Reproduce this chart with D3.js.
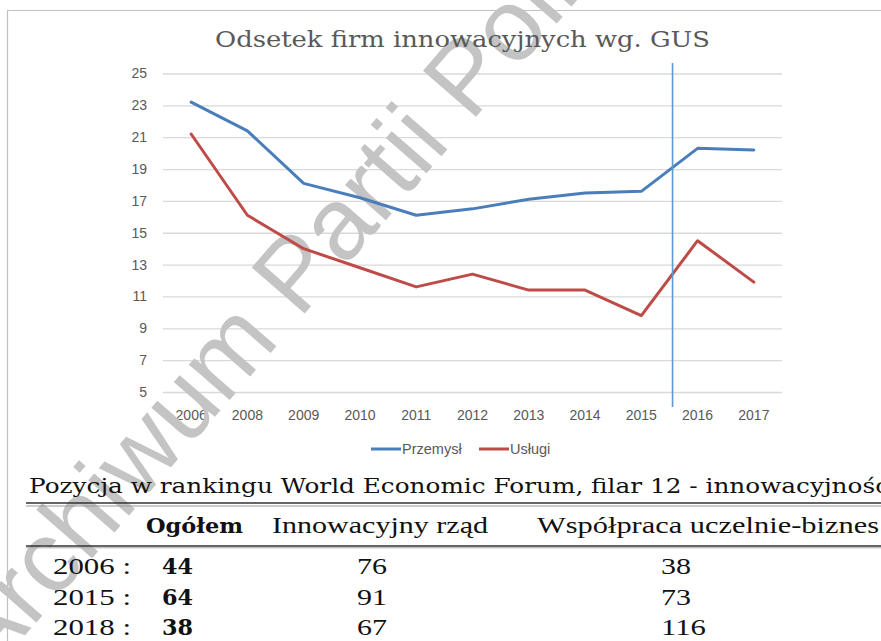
<!DOCTYPE html>
<html>
<head>
<meta charset="utf-8">
<script src="https://cdn.jsdelivr.net/npm/d3@7"></script>
<style>
  body { margin: 0; background: #fff; }
  svg { display: block; }
</style>
</head>
<body>
<div id="mygraph"></div>
<script>
// chart data (GUS)
const years = ['2006', '2008', '2009', '2010', '2011', '2012', '2013', '2014', '2015', '2016', '2017'];
const przemysl = [23.2, 21.4, 18.1, 17.2, 16.1, 16.5, 17.1, 17.5, 17.6, 20.3, 20.2];
const uslugi = [21.2, 16.1, 14.0, 12.8, 11.6, 12.4, 11.4, 11.4, 9.8, 14.5, 11.9];
const seriesNames = ['Przemysł', 'Usługi'];
const yTicks = [5, 7, 9, 11, 13, 15, 17, 19, 21, 23, 25];

// table data (WEF)
const tableHeaders = ['Ogółem', 'Innowacyjny rząd', 'Współpraca uczelnie-biznes'];
const rankYears = ['2006', '2015', '2018'];
const ogolem = [44, 64, 38];
const innowacyjnyRzad = [76, 91, 67];
const wspolpraca = [38, 73, 116];

const W = 881, H = 641;
const colors = ['#4a7ebb', '#be4b48'];

const svg = d3.select("#mygraph").append("svg")
  .attr("width", W)
  .attr("height", H);

svg.append("rect").attr("width", W).attr("height", H).attr("fill", "#fff");

// frame of the pasted chart
svg.append("path")
  .attr("d", `M7.5,${H} V10.5 H${W}`)
  .attr("fill", "none")
  .attr("stroke", "#c0c0c0")
  .attr("stroke-width", 1.2);

const x = d3.scaleBand()
  .domain(years)
  .range([163, 782])
  .padding(0);

const y = d3.scaleLinear()
  .domain([5, 25])
  .range([392, 73.5]);

const plotW = x.range()[1] - x.range()[0];

// y axis with gridlines
const yAxis = svg.append("g")
  .attr("transform", `translate(${x.range()[0]},0)`)
  .call(d3.axisLeft(y).tickValues(yTicks).tickSize(-plotW).tickPadding(16));
yAxis.select(".domain").remove();
yAxis.selectAll("line").attr("stroke", "#d9d9d9").attr("stroke-width", 1.3);
yAxis.selectAll("text")
  .attr("fill", "#595959")
  .style("font-family", "'Liberation Sans', Arial, sans-serif")
  .style("font-size", "14px");

// x axis (labels only)
const xAxis = svg.append("g")
  .attr("transform", `translate(0,${y(5)})`)
  .call(d3.axisBottom(x).tickSize(0).tickPadding(18));
xAxis.select(".domain").remove();
xAxis.selectAll("text")
  .attr("fill", "#595959")
  .style("font-family", "'Liberation Sans', Arial, sans-serif")
  .style("font-size", "14px");

// watermark
svg.append("text")
  .attr("transform", "translate(-13,679) rotate(-49)")
  .attr("fill", "#c4c4c4")
  .style("font-family", "'Liberation Sans', Arial, sans-serif")
  .style("font-size", "102px")
  .text("Archiwum Partii Politycznych");

// lines
const line = d3.line()
  .x((d, i) => x(years[i]) + x.bandwidth() / 2)
  .y(d => y(d));

[przemysl, uslugi].forEach((s, k) => {
  svg.append("path")
    .datum(s)
    .attr("fill", "none")
    .attr("stroke", colors[k])
    .attr("stroke-width", 3)
    .attr("stroke-linejoin", "round")
    .attr("stroke-linecap", "round")
    .attr("d", line);
});

// marker line between 2015 and 2016
const markX = x('2015') + x.bandwidth() / 2 + x.step() * 0.555;
svg.append("line")
  .attr("x1", markX).attr("x2", markX)
  .attr("y1", 63).attr("y2", 407)
  .attr("stroke", "#5b9bd5")
  .attr("stroke-width", 1.6);

// title
svg.append("text")
  .attr("x", 215)
  .attr("y", 47)
  .attr("textLength", 495)
  .attr("lengthAdjust", "spacingAndGlyphs")
  .attr("fill", "#595959")
  .style("font-family", "'DejaVu Serif', serif")
  .style("font-size", "23px")
  .text("Odsetek firm innowacyjnych wg. GUS");

// legend
const legendX = [371, 479];
const legend = svg.selectAll(".legend")
  .data(seriesNames)
  .enter().append("g")
  .attr("class", "legend")
  .attr("transform", (d, i) => `translate(${legendX[i]},449)`);
legend.append("line")
  .attr("x1", 0).attr("x2", 30)
  .attr("stroke", (d, i) => colors[i])
  .attr("stroke-width", 3);
legend.append("text")
  .attr("x", 31)
  .attr("dy", "0.35em")
  .attr("fill", "#595959")
  .style("font-family", "'Liberation Sans', Arial, sans-serif")
  .style("font-size", "14.5px")
  .text(d => d);

// ---- table below the chart ----
const table = svg.append("g");

table.append("text")
  .attr("x", 29)
  .attr("y", 493)
  .attr("textLength", 860)
  .attr("lengthAdjust", "spacingAndGlyphs")
  .attr("fill", "#111")
  .style("font-family", "'DejaVu Serif', serif")
  .style("font-size", "21px")
  .text("Pozycja w rankingu World Economic Forum, filar 12 - innowacyjność");

// rules
const rules = [[503, 1.6, '#333'], [506, 1, '#999'], [546, 1.6, '#333'], [547.8, 1, '#aaa']];
table.selectAll(".rule")
  .data(rules)
  .enter().append("line")
  .attr("class", "rule")
  .attr("x1", 26).attr("x2", W)
  .attr("y1", d => d[0]).attr("y2", d => d[0])
  .attr("stroke", d => d[2])
  .attr("stroke-width", d => d[1]);

// header
const headX = [146, 272, 537];
const headW = [97, 216, 342];
table.selectAll(".head")
  .data(tableHeaders)
  .enter().append("text")
  .attr("class", "head")
  .attr("x", (d, i) => headX[i])
  .attr("y", 533)
  .attr("textLength", (d, i) => headW[i])
  .attr("lengthAdjust", "spacingAndGlyphs")
  .attr("fill", "#111")
  .style("font-family", (d, i) => i === 0 ? "'DejaVu Serif', serif" : "'Liberation Serif', serif")
  .style("font-weight", (d, i) => i === 0 ? "bold" : "normal")
  .style("font-size", (d, i) => i === 0 ? "20px" : "23px")
  .text(d => d);

// rows
const rowY = [574, 605, 635];
const cols = [ogolem, innowacyjnyRzad, wspolpraca];
const colX = [162, 357, 661];

rankYears.forEach((yr, r) => {
  table.append("text")
    .attr("x", 53)
    .attr("y", rowY[r])
    .attr("textLength", 78)
    .attr("lengthAdjust", "spacingAndGlyphs")
    .attr("fill", "#111")
    .style("font-family", "'Liberation Serif', serif")
    .style("font-size", "24px")
    .text(yr + " :");
  cols.forEach((c, j) => {
    const s = String(c[r]);
    table.append("text")
      .attr("x", colX[j])
      .attr("y", rowY[r])
      .attr("textLength", j === 0 ? s.length * 15.5 : s.length * 15)
      .attr("lengthAdjust", "spacingAndGlyphs")
      .attr("fill", "#111")
      .style("font-family", j === 0 ? "'DejaVu Serif', serif" : "'Liberation Serif', serif")
      .style("font-weight", j === 0 ? "bold" : "normal")
      .style("font-size", j === 0 ? "22px" : "24px")
      .text(s);
  });
});
</script>
</body>
</html>
